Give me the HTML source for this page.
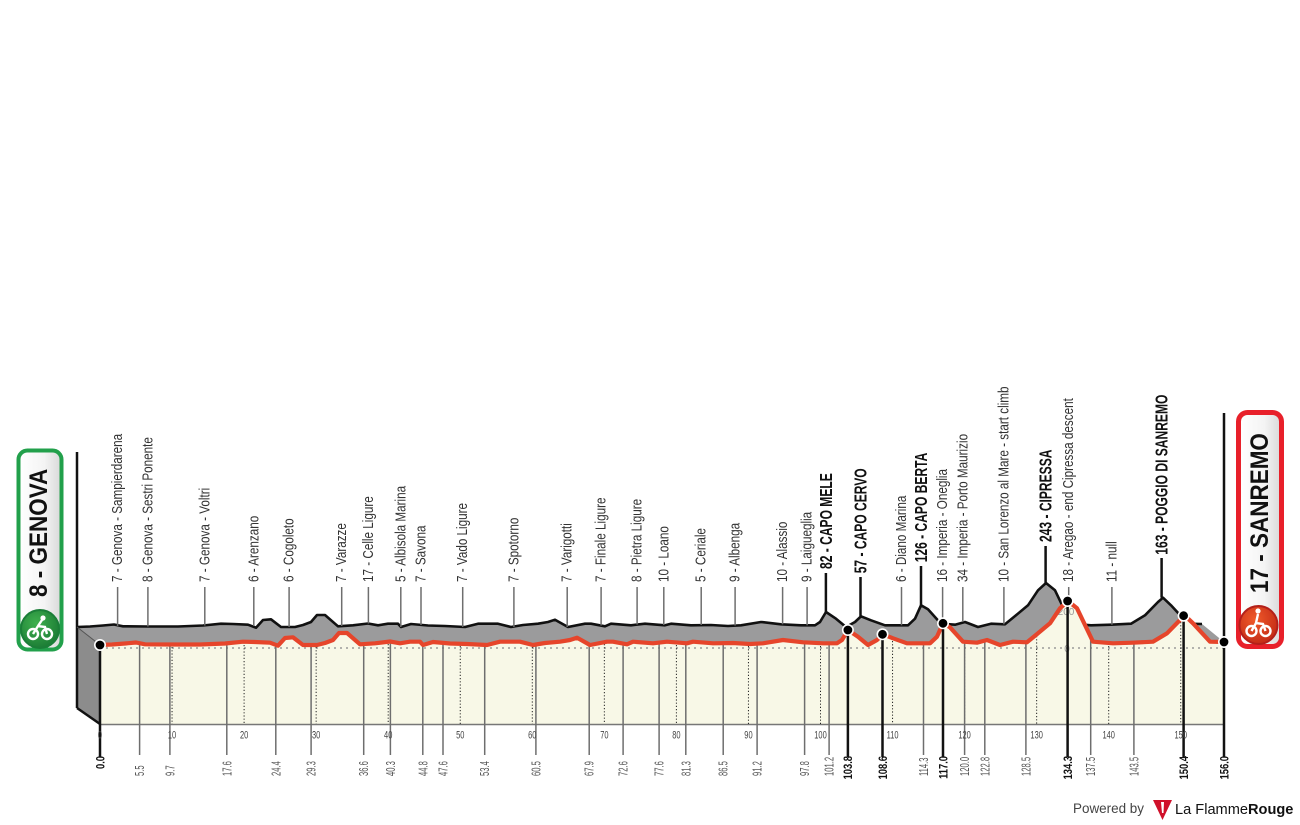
<!DOCTYPE html>
<html><head><meta charset="utf-8"><style>
html,body{margin:0;padding:0;background:#fff;}
svg{display:block;font-family:"Liberation Sans",sans-serif;}
.tl{font-size:15px;fill:#333;}
.bl{font-size:18px;font-weight:bold;fill:#111;}
.dr{font-size:12.5px;fill:#555;}
.db{font-size:12px;font-weight:bold;fill:#111;}
.km{font-size:11.5px;fill:#444;text-anchor:middle;}
.tk{stroke:#6e6e6e;stroke-width:1.5;}
.tb{stroke:#111;stroke-width:2.5;}
.dt{stroke:#222;stroke-width:1;stroke-dasharray:1.2 2;}
</style></head><body>
<svg width="1300" height="825" viewBox="0 0 1300 825" xmlns="http://www.w3.org/2000/svg">
<defs>
<linearGradient id="bg1" x1="0" y1="0" x2="1" y2="0"><stop offset="0" stop-color="#ffffff"/><stop offset="0.6" stop-color="#f4f4f4"/><stop offset="1" stop-color="#d8d8d8"/></linearGradient>
<radialGradient id="gc" cx="0.4" cy="0.35" r="0.7"><stop offset="0" stop-color="#3fb04e"/><stop offset="1" stop-color="#1a7a34"/></radialGradient>
<radialGradient id="rc" cx="0.4" cy="0.35" r="0.7"><stop offset="0" stop-color="#f05a2a"/><stop offset="1" stop-color="#c22a16"/></radialGradient>
</defs>
<rect width="1300" height="825" fill="#fff"/>

<!-- gray top surface -->
<polygon fill="#9b9b9c" points="77,627 90,626.5 103,625.5 114,624.5 123,626.3 148,626.5 178,626.5 203,625.5 221,623.7 233,624 248,624.7 256,627.7 263,620 271,619.3 281,627 295,627 303,625 311,622 317,615 325,615 338,626.3 353,625.3 368,623.5 378,625.3 388,623.7 398,623.7 401,627 411,624 428,625.5 445,626 465,627 478,623.7 498,623.7 511,627 523,625 538,623.7 548,622 555,619.7 568,627 585,623.7 591,623.7 605,626.3 611,623.7 631,625.3 645,623.7 665,625.3 671,623.7 691,625.3 711,625 728,626 741,625.3 761,622 781,624.3 801,625.3 815,625.3 820,622 826,612 836,618.7 846,627 855,622 861,616.3 871,620.3 885,625.3 908,625.3 915,618.7 921,605.3 928,609.3 941,623.7 955,624.7 965,622 978,627 991,623.7 1005,624.3 1016,615.3 1028,605.3 1038,590.3 1046,583 1055,590.3 1071,623.7 1091,625.3 1111,624.7 1131,623.7 1145,615.3 1158,602 1163,597.7 1171,605.3 1188,623.7 1202,624 1224,642 1224,724 100,724 77,708"/>
<!-- left face -->
<polygon fill="#8c8c8c" points="77,627 100,645 100,724 77,708"/>
<!-- black top line -->
<polyline fill="none" stroke="#111" stroke-width="2.6" stroke-linejoin="round" points="77,627 90,626.5 103,625.5 114,624.5 123,626.3 148,626.5 178,626.5 203,625.5 221,623.7 233,624 248,624.7 256,627.7 263,620 271,619.3 281,627 295,627 303,625 311,622 317,615 325,615 338,626.3 353,625.3 368,623.5 378,625.3 388,623.7 398,623.7 401,627 411,624 428,625.5 445,626 465,627 478,623.7 498,623.7 511,627 523,625 538,623.7 548,622 555,619.7 568,627 585,623.7 591,623.7 605,626.3 611,623.7 631,625.3 645,623.7 665,625.3 671,623.7 691,625.3 711,625 728,626 741,625.3 761,622 781,624.3 801,625.3 815,625.3 820,622 826,612 836,618.7 846,627 855,622 861,616.3 871,620.3 885,625.3 908,625.3 915,618.7 921,605.3 928,609.3 941,623.7 955,624.7 965,622 978,627 991,623.7 1005,624.3 1016,615.3 1028,605.3 1038,590.3 1046,583 1055,590.3 1071,623.7 1091,625.3 1111,624.7 1131,623.7 1145,615.3 1158,602 1163,597.7 1171,605.3 1188,623.7 1202,624"/>
<!-- cream front face -->
<polygon fill="#f8f8e7" points="100,645 112,644.5 125,643.5 136,642.5 145,644.3 170,644.5 200,644.5 225,643.5 243,641.7 255,642 270,642.7 278,645.7 285,638 293,637.3 303,645 317,645 325,643 333,640 339,633 347,633 360,644.3 375,643.3 390,641.5 400,643.3 410,641.7 420,641.7 423,645 433,642 450,643.5 467,644 487,645 500,641.7 520,641.7 533,645 545,643 560,641.7 570,640 577,637.7 590,645 607,641.7 613,641.7 627,644.3 633,641.7 653,643.3 667,641.7 687,643.3 693,641.7 713,643.3 733,643 750,644 763,643.3 783,640 803,642.3 823,643.3 837,643.3 842,640 848,630 858,636.7 868,645 877,640 883,634.3 893,638.3 907,643.3 930,643.3 937,636.7 943,623.3 950,627.3 963,641.7 977,642.7 987,640 1000,645 1013,641.7 1027,642.3 1038,633.3 1050,623.3 1060,608.3 1068,601 1077,608.3 1093,641.7 1113,643.3 1133,642.7 1153,641.7 1167,633.3 1180,620 1185,615.7 1193,623.3 1210,641.7 1224,642 1224,724 100,724"/>

<!-- left/start structural lines -->
<line x1="77" y1="452" x2="77" y2="708" stroke="#111" stroke-width="2.5"/>
<line x1="77" y1="708" x2="100" y2="724" stroke="#111" stroke-width="2.5"/>
<line x1="77" y1="627" x2="100" y2="645" stroke="#555" stroke-width="1"/>
<!-- baseline dotted & bottom line -->
<line x1="100" y1="648" x2="1224" y2="648" stroke="#9a9a9a" stroke-width="1.5" stroke-dasharray="2 4"/>
<line x1="100" y1="724.5" x2="1224" y2="724.5" stroke="#777" stroke-width="1.5"/>

<!-- 10 km dotted verticals -->
<g class="dt">
<line x1="172.05" y1="647" x2="172.05" y2="724"/>
<line x1="244.1" y1="645" x2="244.1" y2="724"/>
<line x1="316.15" y1="647" x2="316.15" y2="724"/>
<line x1="388.2" y1="644" x2="388.2" y2="724"/>
<line x1="460.25" y1="646" x2="460.25" y2="724"/>
<line x1="532.3" y1="647" x2="532.3" y2="724"/>
<line x1="604.35" y1="644" x2="604.35" y2="724"/>
<line x1="676.4" y1="645" x2="676.4" y2="724"/>
<line x1="748.45" y1="646" x2="748.45" y2="724"/>
<line x1="820.5" y1="646" x2="820.5" y2="724"/>
<line x1="892.55" y1="641" x2="892.55" y2="724"/>
<line x1="964.6" y1="644" x2="964.6" y2="724"/>
<line x1="1036.65" y1="636" x2="1036.65" y2="724"/>
<line x1="1108.7" y1="646" x2="1108.7" y2="724"/>
<line x1="1180.75" y1="622" x2="1180.75" y2="724"/>
</g>

<!-- elevation scale labels -->
<text x="1066" y="615" font-size="10" fill="#999" text-anchor="middle">200</text>
<text x="1067" y="652" font-size="10" fill="#999" text-anchor="middle">0</text>

<!-- regular front ticks -->
<g class="tk">
<line x1="139.6" y1="645" x2="139.6" y2="755"/>
<line x1="169.9" y1="645" x2="169.9" y2="755"/>
<line x1="226.8" y1="645" x2="226.8" y2="755"/>
<line x1="275.8" y1="645" x2="275.8" y2="755"/>
<line x1="311.1" y1="646" x2="311.1" y2="755"/>
<line x1="363.7" y1="645" x2="363.7" y2="755"/>
<line x1="390.4" y1="643" x2="390.4" y2="755"/>
<line x1="422.8" y1="646" x2="422.8" y2="755"/>
<line x1="443.0" y1="644" x2="443.0" y2="755"/>
<line x1="484.7" y1="646" x2="484.7" y2="755"/>
<line x1="535.9" y1="646" x2="535.9" y2="755"/>
<line x1="589.2" y1="646" x2="589.2" y2="755"/>
<line x1="623.1" y1="645" x2="623.1" y2="755"/>
<line x1="659.1" y1="644" x2="659.1" y2="755"/>
<line x1="685.8" y1="644" x2="685.8" y2="755"/>
<line x1="723.2" y1="644" x2="723.2" y2="755"/>
<line x1="757.1" y1="645" x2="757.1" y2="755"/>
<line x1="804.6" y1="643" x2="804.6" y2="755"/>
<line x1="829.1" y1="644" x2="829.1" y2="755"/>
<line x1="923.5" y1="644" x2="923.5" y2="755"/>
<line x1="964.6" y1="643" x2="964.6" y2="755"/>
<line x1="984.8" y1="641" x2="984.8" y2="755"/>
<line x1="1025.9" y1="643" x2="1025.9" y2="755"/>
<line x1="1090.7" y1="637" x2="1090.7" y2="755"/>
<line x1="1133.9" y1="644" x2="1133.9" y2="755"/>
</g>

<!-- regular top ticks -->
<g class="tk">
<line x1="117.6" y1="587" x2="117.6" y2="626"/>
<line x1="147.9" y1="587" x2="147.9" y2="626.5"/>
<line x1="204.8" y1="587" x2="204.8" y2="625.5"/>
<line x1="253.8" y1="587" x2="253.8" y2="626"/>
<line x1="289.1" y1="587" x2="289.1" y2="627"/>
<line x1="341.7" y1="587" x2="341.7" y2="626"/>
<line x1="368.4" y1="587" x2="368.4" y2="623.5"/>
<line x1="400.8" y1="587" x2="400.8" y2="627"/>
<line x1="421.0" y1="587" x2="421.0" y2="625"/>
<line x1="462.7" y1="587" x2="462.7" y2="627"/>
<line x1="513.9" y1="587" x2="513.9" y2="627"/>
<line x1="567.2" y1="587" x2="567.2" y2="627"/>
<line x1="601.1" y1="587" x2="601.1" y2="625.5"/>
<line x1="637.1" y1="587" x2="637.1" y2="624.5"/>
<line x1="663.8" y1="587" x2="663.8" y2="625"/>
<line x1="701.2" y1="587" x2="701.2" y2="625"/>
<line x1="735.1" y1="587" x2="735.1" y2="625.5"/>
<line x1="782.6" y1="587" x2="782.6" y2="624.3"/>
<line x1="807.1" y1="587" x2="807.1" y2="625.3"/>
<line x1="901.5" y1="587" x2="901.5" y2="625.3"/>
<line x1="942.6" y1="587" x2="942.6" y2="620"/>
<line x1="962.8" y1="587" x2="962.8" y2="622"/>
<line x1="1003.9" y1="587" x2="1003.9" y2="624.3"/>
<line x1="1068.7" y1="587" x2="1068.7" y2="600"/>
<line x1="1111.9" y1="587" x2="1111.9" y2="624.7"/>
</g>

<!-- red profile line -->
<polyline fill="none" stroke="#e6452b" stroke-width="4.2" stroke-linejoin="round" stroke-linecap="round" points="100,645 112,644.5 125,643.5 136,642.5 145,644.3 170,644.5 200,644.5 225,643.5 243,641.7 255,642 270,642.7 278,645.7 285,638 293,637.3 303,645 317,645 325,643 333,640 339,633 347,633 360,644.3 375,643.3 390,641.5 400,643.3 410,641.7 420,641.7 423,645 433,642 450,643.5 467,644 487,645 500,641.7 520,641.7 533,645 545,643 560,641.7 570,640 577,637.7 590,645 607,641.7 613,641.7 627,644.3 633,641.7 653,643.3 667,641.7 687,643.3 693,641.7 713,643.3 733,643 750,644 763,643.3 783,640 803,642.3 823,643.3 837,643.3 842,640 848,630 858,636.7 868,645 877,640 883,634.3 893,638.3 907,643.3 930,643.3 937,636.7 943,623.3 950,627.3 963,641.7 977,642.7 987,640 1000,645 1013,641.7 1027,642.3 1038,633.3 1050,623.3 1060,608.3 1068,601 1077,608.3 1093,641.7 1113,643.3 1133,642.7 1153,641.7 1167,633.3 1180,620 1185,615.7 1193,623.3 1210,641.7 1224,642"/>

<!-- bold ticks -->
<g class="tb">
<line x1="100" y1="645" x2="100" y2="757"/>
<line x1="847.9" y1="630" x2="847.9" y2="757"/>
<line x1="882.5" y1="634.3" x2="882.5" y2="757"/>
<line x1="943.0" y1="623.3" x2="943.0" y2="757"/>
<line x1="1067.6" y1="601" x2="1067.6" y2="757"/>
<line x1="1183.6" y1="615.7" x2="1183.6" y2="757"/>
<line x1="1224" y1="413" x2="1224" y2="757"/>
<line x1="825.9" y1="573" x2="825.9" y2="612"/>
<line x1="860.5" y1="577" x2="860.5" y2="616.3"/>
<line x1="921.0" y1="566" x2="921.0" y2="605.3"/>
<line x1="1045.6" y1="546" x2="1045.6" y2="583"/>
<line x1="1161.6" y1="558" x2="1161.6" y2="597.7"/>
</g>

<!-- dots -->
<g fill="#000" stroke="#fff" stroke-width="1.6">
<circle cx="100" cy="645" r="5.2"/>
<circle cx="847.9" cy="630" r="5.2"/>
<circle cx="882.5" cy="634.3" r="5.2"/>
<circle cx="943.0" cy="623.3" r="5.2"/>
<circle cx="1067.6" cy="601" r="5.2"/>
<circle cx="1183.6" cy="615.7" r="5.2"/>
<circle cx="1224" cy="642" r="5.2"/>
</g>

<!-- top regular labels -->
<g class="tl">
<text transform="translate(122.1,582) rotate(-90) scale(0.78,1)">7 - Genova - Sampierdarena</text>
<text transform="translate(152.4,582) rotate(-90) scale(0.78,1)">8 - Genova - Sestri Ponente</text>
<text transform="translate(209.3,582) rotate(-90) scale(0.78,1)">7 - Genova - Voltri</text>
<text transform="translate(258.3,582) rotate(-90) scale(0.78,1)">6 - Arenzano</text>
<text transform="translate(293.6,582) rotate(-90) scale(0.78,1)">6 - Cogoleto</text>
<text transform="translate(346.2,582) rotate(-90) scale(0.78,1)">7 - Varazze</text>
<text transform="translate(372.9,582) rotate(-90) scale(0.78,1)">17 - Celle Ligure</text>
<text transform="translate(405.3,582) rotate(-90) scale(0.78,1)">5 - Albisola Marina</text>
<text transform="translate(425.5,582) rotate(-90) scale(0.78,1)">7 - Savona</text>
<text transform="translate(467.2,582) rotate(-90) scale(0.78,1)">7 - Vado Ligure</text>
<text transform="translate(518.4,582) rotate(-90) scale(0.78,1)">7 - Spotorno</text>
<text transform="translate(571.7,582) rotate(-90) scale(0.78,1)">7 - Varigotti</text>
<text transform="translate(605.6,582) rotate(-90) scale(0.78,1)">7 - Finale Ligure</text>
<text transform="translate(641.6,582) rotate(-90) scale(0.78,1)">8 - Pietra Ligure</text>
<text transform="translate(668.3,582) rotate(-90) scale(0.78,1)">10 - Loano</text>
<text transform="translate(705.7,582) rotate(-90) scale(0.78,1)">5 - Ceriale</text>
<text transform="translate(739.6,582) rotate(-90) scale(0.78,1)">9 - Albenga</text>
<text transform="translate(787.1,582) rotate(-90) scale(0.78,1)">10 - Alassio</text>
<text transform="translate(811.6,582) rotate(-90) scale(0.78,1)">9 - Laigueglia</text>
<text transform="translate(906,582) rotate(-90) scale(0.78,1)">6 - Diano Marina</text>
<text transform="translate(947.1,582) rotate(-90) scale(0.78,1)">16 - Imperia - Oneglia</text>
<text transform="translate(967.3,582) rotate(-90) scale(0.78,1)">34 - Imperia - Porto Maurizio</text>
<text transform="translate(1008.4,582) rotate(-90) scale(0.78,1)">10 - San Lorenzo al Mare - start climb</text>
<text transform="translate(1073.2,582) rotate(-90) scale(0.78,1)">18 - Aregao - end Cipressa descent</text>
<text transform="translate(1116.4,582) rotate(-90) scale(0.78,1)">11 - null</text>
</g>

<!-- bold climb labels -->
<g class="bl">
<text transform="translate(831.9,569) rotate(-90) scale(0.67,1)">82 - CAPO MELE</text>
<text transform="translate(866.5,573.3) rotate(-90) scale(0.67,1)">57 - CAPO CERVO</text>
<text transform="translate(927,562.3) rotate(-90) scale(0.67,1)">126 - CAPO BERTA</text>
<text transform="translate(1051.6,542) rotate(-90) scale(0.67,1)">243 - CIPRESSA</text>
<text transform="translate(1167.6,554.7) rotate(-90) scale(0.67,1)">163 - POGGIO DI SANREMO</text>
</g>

<!-- km axis labels -->
<g class="km">
<text transform="translate(100,738.5) scale(0.65,1)">0</text>
<text transform="translate(172.05,738.5) scale(0.65,1)">10</text>
<text transform="translate(244.1,738.5) scale(0.65,1)">20</text>
<text transform="translate(316.15,738.5) scale(0.65,1)">30</text>
<text transform="translate(388.2,738.5) scale(0.65,1)">40</text>
<text transform="translate(460.25,738.5) scale(0.65,1)">50</text>
<text transform="translate(532.3,738.5) scale(0.65,1)">60</text>
<text transform="translate(604.35,738.5) scale(0.65,1)">70</text>
<text transform="translate(676.4,738.5) scale(0.65,1)">80</text>
<text transform="translate(748.45,738.5) scale(0.65,1)">90</text>
<text transform="translate(820.5,738.5) scale(0.65,1)">100</text>
<text transform="translate(892.55,738.5) scale(0.65,1)">110</text>
<text transform="translate(964.6,738.5) scale(0.65,1)">120</text>
<text transform="translate(1036.65,738.5) scale(0.65,1)">130</text>
<text transform="translate(1108.7,738.5) scale(0.65,1)">140</text>
<text transform="translate(1180.75,738.5) scale(0.65,1)">150</text>
</g>

<!-- bottom distance labels regular -->
<g class="dr">
<text transform="translate(144.1,776) rotate(-90) scale(0.61,1)">5.5</text>
<text transform="translate(174.4,776) rotate(-90) scale(0.61,1)">9.7</text>
<text transform="translate(231.3,776) rotate(-90) scale(0.61,1)">17.6</text>
<text transform="translate(280.3,776) rotate(-90) scale(0.61,1)">24.4</text>
<text transform="translate(315.6,776) rotate(-90) scale(0.61,1)">29.3</text>
<text transform="translate(368.2,776) rotate(-90) scale(0.61,1)">36.6</text>
<text transform="translate(394.9,776) rotate(-90) scale(0.61,1)">40.3</text>
<text transform="translate(427.3,776) rotate(-90) scale(0.61,1)">44.8</text>
<text transform="translate(447.5,776) rotate(-90) scale(0.61,1)">47.6</text>
<text transform="translate(489.2,776) rotate(-90) scale(0.61,1)">53.4</text>
<text transform="translate(540.4,776) rotate(-90) scale(0.61,1)">60.5</text>
<text transform="translate(593.7,776) rotate(-90) scale(0.61,1)">67.9</text>
<text transform="translate(627.6,776) rotate(-90) scale(0.61,1)">72.6</text>
<text transform="translate(663.6,776) rotate(-90) scale(0.61,1)">77.6</text>
<text transform="translate(690.3,776) rotate(-90) scale(0.61,1)">81.3</text>
<text transform="translate(727.7,776) rotate(-90) scale(0.61,1)">86.5</text>
<text transform="translate(761.6,776) rotate(-90) scale(0.61,1)">91.2</text>
<text transform="translate(809.1,776) rotate(-90) scale(0.61,1)">97.8</text>
<text transform="translate(833.6,776) rotate(-90) scale(0.61,1)">101.2</text>
<text transform="translate(928,776) rotate(-90) scale(0.61,1)">114.3</text>
<text transform="translate(969.1,776) rotate(-90) scale(0.61,1)">120.0</text>
<text transform="translate(989.3,776) rotate(-90) scale(0.61,1)">122.8</text>
<text transform="translate(1030.4,776) rotate(-90) scale(0.61,1)">128.5</text>
<text transform="translate(1095.2,776) rotate(-90) scale(0.61,1)">137.5</text>
<text transform="translate(1138.4,776) rotate(-90) scale(0.61,1)">143.5</text>
</g>
<!-- bottom distance labels bold -->
<g class="db" text-anchor="end">
<text transform="translate(104.3,756) rotate(-90) scale(0.78,1)">0.0</text>
<text transform="translate(852.2,756) rotate(-90) scale(0.78,1)">103.8</text>
<text transform="translate(886.8,756) rotate(-90) scale(0.78,1)">108.6</text>
<text transform="translate(947.3,756) rotate(-90) scale(0.78,1)">117.0</text>
<text transform="translate(1071.9,756) rotate(-90) scale(0.78,1)">134.3</text>
<text transform="translate(1187.9,756) rotate(-90) scale(0.78,1)">150.4</text>
<text transform="translate(1228.3,756) rotate(-90) scale(0.78,1)">156.0</text>
</g>

<!-- Start badge -->
<rect x="18.5" y="450.5" width="43" height="199" rx="9" ry="9" fill="url(#bg1)" stroke="#22a04b" stroke-width="4"/>
<text transform="translate(47,597) rotate(-90) scale(0.9,1)" font-size="25" font-weight="bold" fill="#111">8 - GENOVA</text>
<circle cx="40" cy="629" r="19" fill="url(#gc)" stroke="#1b7e38" stroke-width="2"/>
<g fill="none" stroke="#fff" stroke-width="2.4">
<circle cx="33" cy="634" r="5"/><circle cx="47" cy="634" r="5"/>
<path d="M33 634 L38 626 L45 627 L47 634 M38 626 L42 620"/>
</g>
<circle cx="43" cy="618" r="2.6" fill="#fff"/>

<!-- Finish badge -->
<rect x="1238.5" y="412.5" width="43" height="234" rx="9" ry="9" fill="url(#bg1)" stroke="#e8202a" stroke-width="5"/>
<text transform="translate(1268,593) rotate(-90) scale(0.9,1)" font-size="25" font-weight="bold" fill="#111">17 - SANREMO</text>
<circle cx="1258.5" cy="625" r="19" fill="url(#rc)" stroke="#b3201a" stroke-width="2"/>
<g fill="none" stroke="#fff" stroke-width="2.4">
<circle cx="1251.5" cy="631" r="5"/><circle cx="1265.5" cy="631" r="5"/>
<path d="M1251.5 631 L1256 623 L1263 624 L1265.5 631 M1256 623 L1258 614"/>
</g>
<circle cx="1258" cy="611" r="2.6" fill="#fff"/>

<!-- Powered by -->
<text x="1073" y="813" font-size="14" fill="#444" textLength="71" lengthAdjust="spacingAndGlyphs">Powered by</text>
<polygon points="1153,800 1172,800 1162.5,820" fill="#d0102a"/>
<polygon points="1161,802 1164,802 1163.5,813 1162,813" fill="#fff"/>
<text x="1175" y="814" font-size="14.6" fill="#111">La Flamme<tspan font-weight="bold">Rouge</tspan></text>
</svg>
</body></html>
